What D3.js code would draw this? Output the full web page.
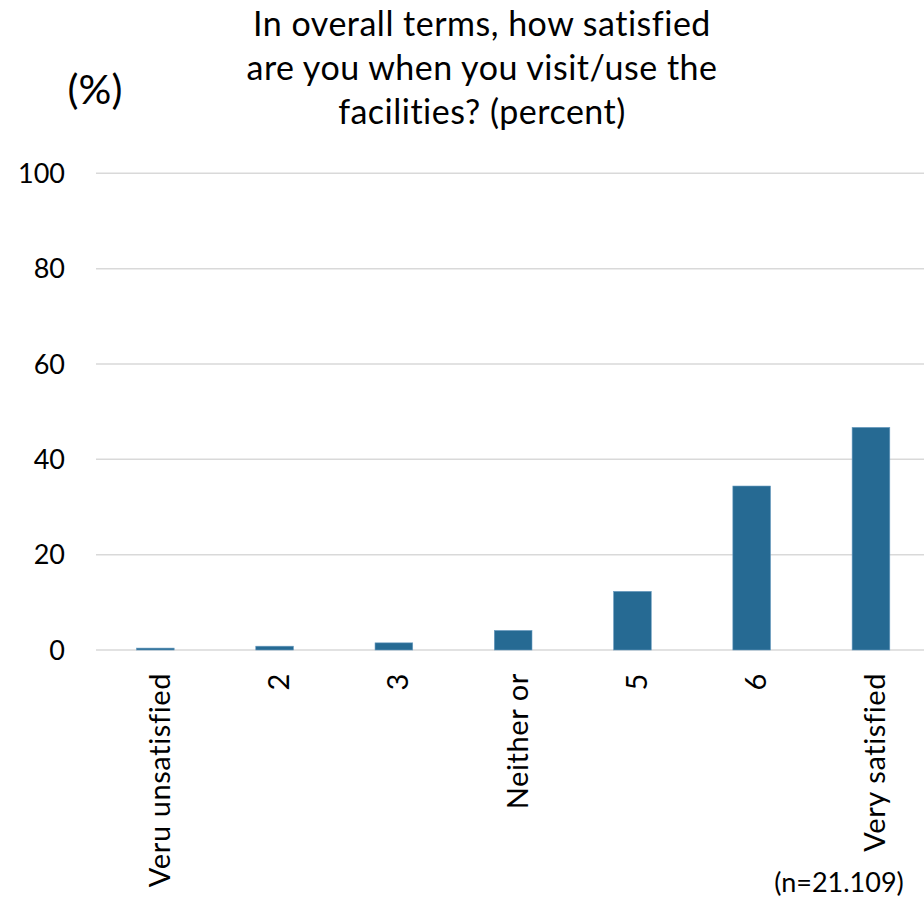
<!DOCTYPE html>
<html>
<head>
<meta charset="utf-8">
<script src="https://cdn.jsdelivr.net/npm/d3@7"></script>
<style>
  html, body { margin: 0; padding: 0; background: #fff; }
  svg { display: block; }
  text { font-family: Lato, "Open Sans", sans-serif; fill: #000; }
</style>
</head>
<body>
<svg id="chart" width="924" height="899"></svg>
<script>
const categories = ["Veru unsatisfied", "2", "3", "Neither or", "5", "6", "Very satisfied"];
const values = [0.4, 0.8, 1.5, 4.1, 12.3, 34.4, 46.7];
const yTicks = [0, 20, 40, 60, 80, 100];
const titleLines = ["In overall terms, how satisfied", "are you when you visit/use the", "facilities? (percent)"];
const yUnit = "(%)";
const note = "(n=21.109)";

const svg = d3.select("#chart");
const W = 924, H = 899;

const x = d3.scaleBand()
  .domain(categories)
  .range([95.7, 930.6])
  .paddingInner(0.684)
  .paddingOuter(0.342);

const y = d3.scaleLinear().domain([0, 100]).range([650, 173.3]);

// gridlines
svg.append("g").selectAll("line")
  .data(yTicks)
  .join("line")
  .attr("x1", 96).attr("x2", W)
  .attr("y1", d => y(d)).attr("y2", d => y(d))
  .attr("stroke", "#d9d9d9").attr("stroke-width", 1.5);

// y tick labels
svg.append("g").selectAll("text")
  .data(yTicks)
  .join("text")
  .attr("x", 65).attr("y", d => y(d))
  .attr("dy", "0.36em")
  .attr("text-anchor", "end")
  .attr("font-size", 27)
  .text(d => d);

// bars
svg.append("g").selectAll("rect")
  .data(values)
  .join("rect")
  .attr("x", (d, i) => x(categories[i]))
  .attr("width", x.bandwidth())
  .attr("y", d => y(d))
  .attr("height", d => y(0) - y(d))
  .attr("fill", "#266a93")
  .attr("stroke", "#6a9cc0")
  .attr("stroke-width", 0.6);

// category labels (rotated)
svg.append("g").selectAll("text")
  .data(categories)
  .join("text")
  .attr("transform", d => `translate(${x(d) + x.bandwidth() / 2},673) rotate(-90)`)
  .attr("text-anchor", "end")
  .attr("dy", "0.5em")
  .attr("font-size", 29)
  .attr("letter-spacing", 0.6)
  .text(d => d);

// title
svg.append("g").selectAll("text")
  .data(titleLines)
  .join("text")
  .attr("x", 482)
  .attr("y", (d, i) => 36 + i * 44)
  .attr("text-anchor", "middle")
  .attr("font-size", 34)
  .attr("letter-spacing", 0.5)
  .text(d => d);

// unit
svg.append("text")
  .attr("x", 95).attr("y", 104)
  .attr("text-anchor", "middle")
  .attr("font-size", 41)
  .text(yUnit);

// note
svg.append("text")
  .attr("x", 839).attr("y", 892)
  .attr("text-anchor", "middle")
  .attr("font-size", 27)
  .text(note);
</script>
</body>
</html>
